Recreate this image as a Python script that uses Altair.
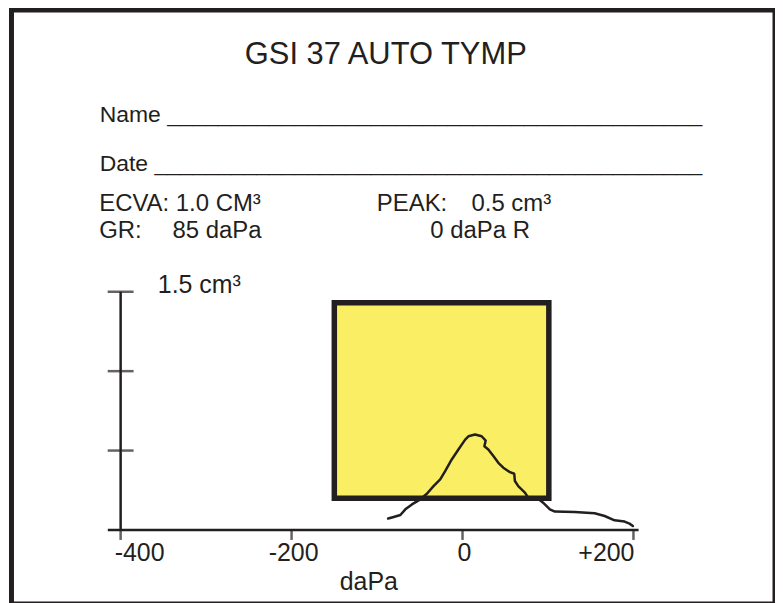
import altair as alt
import pandas as pd

# ---------------- data ----------------
# tympanogram trace, in drawing order (pressure in daPa, compliance in cm3)
pressure = [-87, -80.5, -72.7, -66.9, -59.2, -49.4, -41.7, -33.9, -26.1, -20.3,
            -12.6, -4.8, 3.1, 6.9, 14.7, 22.4, 27.1, 25.6, 30.2, 36.1,
            41.9, 47.7, 55.5, 60.5, 61.3, 65.2, 73, 76.9, 88.5, 94.3,
            102.2, 108, 131.3, 154.6, 166.3, 177.9, 189.6, 195.4, 199.3]
compliance = [0.072, 0.082, 0.094, 0.130, 0.161, 0.193, 0.228, 0.276, 0.318, 0.370,
              0.444, 0.507, 0.569, 0.590, 0.601, 0.590, 0.563, 0.527, 0.507, 0.465,
              0.423, 0.392, 0.364, 0.354, 0.308, 0.276, 0.235, 0.203, 0.197, 0.172,
              0.130, 0.116, 0.113, 0.105, 0.088, 0.061, 0.053, 0.040, 0.025]

# normal region box
box_pressure = [-150, 101]
box_compliance = [0.2, 1.43]

# axes
x_ticks = [-400, -200, 0, 200]
x_tick_labels = ["-400", "-200", "0", "+200"]
x_axis_extent = [-415, 206]
x_title = "daPa"
y_ticks = [0.5, 1.0, 1.5]
y_top_label = "1.5 cm³"

title_text = "GSI 37 AUTO TYMP"
name_text = "Name " + "_" * 42
date_text = "Date " + "_" * 43
ecva_text = "ECVA: 1.0 CM³"
gr_label, gr_value = "GR:", "85 daPa"
peak_label, peak_value = "PEAK:", "0.5 cm³"
peak_pressure = "0 daPa R"

# ---------------- styling ----------------
INK = "#231F20"
YELLOW = "#FAEE64"
FONT = "Liberation Sans"
W, H = 766, 596

xs = alt.Scale(domain=[-527.7, 365.6], nice=False, zero=False)
ys = alt.Scale(domain=[-0.46632, 3.27427], nice=False, zero=False)

trace = pd.DataFrame({"p": pressure, "c": compliance, "i": range(len(pressure))})
box = pd.DataFrame({"x0": [box_pressure[0]], "x1": [box_pressure[1]],
                    "y0": [box_compliance[0]], "y1": [box_compliance[1]]})
xline = pd.DataFrame({"x0": [x_axis_extent[0]], "x1": [x_axis_extent[1]], "y": [0.0]})
yline = pd.DataFrame({"x": [x_ticks[0]], "y0": [0.0], "y1": [max(y_ticks)]})
yt = pd.DataFrame({"x": [x_ticks[0]] * len(y_ticks), "y": y_ticks})
xt = pd.DataFrame({"x": x_ticks, "lab": x_tick_labels, "y": [0.0] * len(x_ticks)})
one = pd.DataFrame({"k": [0]})

X = lambda f: alt.X(f, scale=xs, axis=None)
Y = lambda f: alt.Y(f, scale=ys, axis=None)

box_layer = alt.Chart(box).mark_rect(fill=YELLOW, stroke=INK, strokeWidth=5.5).encode(
    x=X("x0:Q"), x2="x1:Q", y=Y("y0:Q"), y2="y1:Q",
)

xline_layer = alt.Chart(xline).mark_rule(color=INK, strokeWidth=2.5).encode(
    x=X("x0:Q"), x2="x1:Q", y=Y("y:Q"),
)
yline_layer = alt.Chart(yline).mark_rule(color=INK, strokeWidth=2.5).encode(
    x=X("x:Q"), y=Y("y0:Q"), y2="y1:Q",
)
ytick_layer = alt.Chart(yt).mark_tick(orient="horizontal", size=26, thickness=2.5, color=INK).encode(
    x=X("x:Q"), y=Y("y:Q"),
)
xtick_layer = alt.Chart(xt).mark_tick(orient="vertical", size=10, thickness=2.5, color=INK,
                                      yOffset=5).encode(
    x=X("x:Q"), y=Y("y:Q"),
)


def tick_labels(align, dx, cond):
    return alt.Chart(xt).transform_filter(cond).mark_text(
        font=FONT, fontSize=25, color=INK, align=align, baseline="alphabetic", dy=31, dx=dx,
    ).encode(x=X("x:Q"), y=Y("y:Q"), text="lab:N")


lo, hi = min(x_ticks), max(x_ticks)
xlab_layers = [
    tick_labels("left", -6, f"datum.x == {lo}"),
    tick_labels("center", 2, f"datum.x > {lo} && datum.x < {hi}"),
    tick_labels("right", 1, f"datum.x == {hi}"),
]

curve = alt.Chart(trace).mark_line(color=INK, strokeWidth=2.5, strokeJoin="round", strokeCap="round").encode(
    x=X("p:Q"), y=Y("c:Q"), order="i:Q",
)


def label(text, x, y, size, align="left"):
    return alt.Chart(one).mark_text(
        text=text, align=align, baseline="alphabetic", font=FONT,
        fontSize=size, color=INK,
    ).encode(x=alt.value(x), y=alt.value(y))


texts = [
    label(title_text, 375.5, 54, 31, "center"),
    label(name_text, 88.5, 112, 23),
    label(date_text, 88.5, 162, 23),
    label(ecva_text, 88, 202, 24),
    label(gr_label, 88, 228.5, 24),
    label(gr_value, 161.5, 228.5, 24),
    label(peak_label, 366.5, 202, 24),
    label(peak_value, 461.5, 202, 24),
    label(peak_pressure, 420.2, 228.5, 24),
    label(y_top_label, 146.8, 283.7, 25),
    label(x_title, 358.5, 582, 25, "center"),
]

chart = alt.layer(box_layer, xline_layer, yline_layer, ytick_layer, xtick_layer, *xlab_layers,
                  curve, *texts).properties(
    width=W, height=H,
    autosize=alt.AutoSizeParams(type="none"),
    padding={"left": 3.5, "top": 1, "right": 0, "bottom": 0},
    background="white",
).configure_view(stroke=INK, strokeWidth=5, fill="white")

chart.save("out.html", embed_options={"renderer": "svg", "actions": False})
